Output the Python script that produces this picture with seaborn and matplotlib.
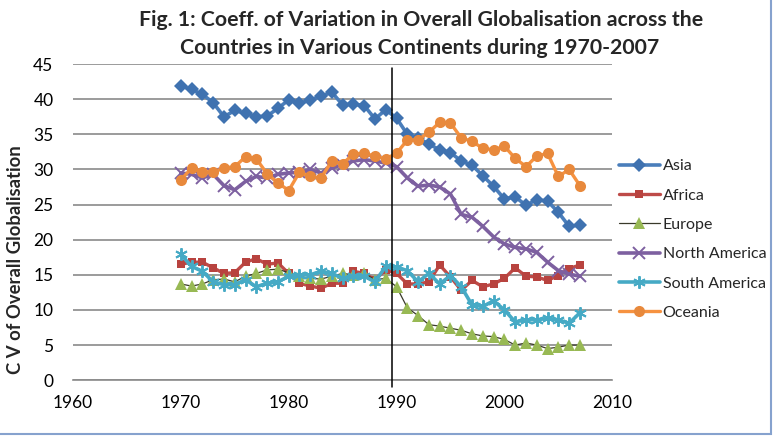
#!/usr/bin/env python3
"""
Coefficient of variation in overall globalisation by continent, 1970-2007
"""

import pandas as pd
import matplotlib
matplotlib.use("Agg")
import matplotlib.pyplot as plt
from matplotlib.patches import Rectangle
import seaborn as sns

# Data
years = list(range(1970, 2008))

asia = [41.9, 41.4, 40.7, 39.5, 37.5, 38.4, 38.0, 37.5, 37.6, 38.7,
        39.9, 39.4, 39.9, 40.4, 41.0, 39.2, 39.3, 39.1, 37.2, 38.5,
        37.3, 35.0, 34.5, 33.6, 32.8, 32.4, 31.2, 30.6, 29.1, 27.6,
        25.8, 26.1, 24.9, 25.7, 25.5, 23.9, 21.9, 22.1]
africa = [16.5, 16.8, 16.8, 16.0, 15.2, 15.3, 16.8, 17.3, 16.5, 16.7,
          15.2, 13.8, 13.4, 13.1, 13.8, 13.8, 15.5, 15.2, 14.3, 15.7,
          15.2, 13.7, 13.7, 14.0, 16.4, 14.7, 12.8, 14.2, 13.3, 13.7,
          14.5, 16.0, 14.8, 14.7, 14.2, 14.9, 15.9, 16.4]
europe = [13.7, 13.4, 13.7, 14.3, 14.4, 14.0, 14.8, 15.2, 15.7, 15.8,
          15.3, 14.8, 14.5, 14.4, 14.8, 15.2, 15.0, 15.2, 14.3, 14.5,
          13.3, 10.3, 9.2, 7.9, 7.7, 7.4, 7.1, 6.6, 6.3, 6.2,
          5.8, 5.0, 5.3, 5.0, 4.5, 4.7, 5.0, 5.0]
north_america = [29.5, 29.3, 28.8, 29.3, 27.7, 27.1, 28.3, 29.0, 28.8, 29.3,
                 29.5, 29.6, 30.0, 29.5, 30.2, 30.7, 31.2, 31.4, 31.2, 30.9,
                 30.4, 28.8, 27.6, 27.8, 27.5, 26.5, 23.6, 23.2, 21.9, 20.4,
                 19.4, 18.9, 18.7, 18.2, 16.8, 15.6, 15.1, 14.8]
south_america = [17.9, 16.2, 15.5, 14.0, 13.6, 13.6, 14.3, 13.3, 13.8, 14.0,
                 14.8, 15.0, 15.0, 15.5, 15.2, 14.5, 14.8, 14.8, 14.0, 16.2,
                 16.1, 15.6, 14.0, 15.2, 13.7, 14.9, 13.3, 10.7, 10.5, 11.3,
                 10.0, 8.3, 8.6, 8.6, 8.8, 8.6, 8.1, 9.6]
oceania = [28.5, 30.2, 29.7, 29.6, 30.2, 30.4, 31.8, 31.5, 29.4, 28.1,
           27.0, 29.6, 29.0, 28.8, 31.2, 30.8, 32.2, 32.3, 31.9, 31.5,
           32.3, 34.2, 34.2, 35.3, 36.7, 36.6, 34.5, 34.0, 33.0, 32.8,
           33.3, 31.6, 30.4, 31.9, 32.3, 29.0, 30.0, 27.7]

continents = ["Asia", "Africa", "Europe", "North America", "South America", "Oceania"]
values = [asia, africa, europe, north_america, south_america, oceania]
break_year = 1989.6

# Styling per series: line colour, marker colour, marker, marker size, line width
styles = {
    "Asia":          dict(color="#4A7EBB", mfc="#3F72B0", marker="D", ms=7.5, lw=2.6, mew=0),
    "Africa":        dict(color="#BE4B48", mfc="#B8433F", marker="s", ms=6.0, lw=2.4, mew=0),
    "Europe":        dict(color="#3A3A2A", mfc="#98B954", marker="^", ms=8.0, lw=0.9, mew=0),
    "North America": dict(color="#7D60A0", mfc="#7D60A0", marker="x", ms=8.0, lw=2.6, mew=1.4),
    "South America": dict(color="#46AAC5", mfc="#46AAC5", marker=(6, 2, 0), ms=9.0, lw=2.6, mew=1.4),
    "Oceania":       dict(color="#F69240", mfc="#E8893C", marker="o", ms=8.0, lw=2.4, mew=0),
}


def build_frame():
    """Long-form table for seaborn"""
    rows = []
    for name, vals in zip(continents, values):
        for yr, v in zip(years, vals):
            rows.append({"year": yr, "cv": v, "continent": name})
    return pd.DataFrame(rows)


def main():
    sns.set_style("white")
    plt.rcParams["font.family"] = ["Lato", "DejaVu Sans"]

    df = build_frame()

    fig = plt.figure(figsize=(7.76, 4.36), dpi=100)
    ax = fig.add_axes([0.094, 0.128, 0.695, 0.725])

    for name in continents:
        st = styles[name]
        sub = df[df["continent"] == name]
        sns.lineplot(data=sub, x="year", y="cv", ax=ax, label=name,
                     color=st["color"], linewidth=st["lw"],
                     marker=st["marker"], markersize=st["ms"],
                     markerfacecolor=st["mfc"], markeredgecolor=st["mfc"],
                     markeredgewidth=st["mew"], zorder=3)

    # vertical reference line drawn over 1990
    ax.plot([break_year, break_year], [-1.0, 44.4], color="black",
            linewidth=1.1, clip_on=False, zorder=4)

    ax.set_xlim(1960, 2010)
    ax.set_ylim(0, 45)
    ax.set_xticks(range(1960, 2011, 10))
    ax.set_yticks(range(0, 46, 5))
    ax.yaxis.grid(True, color="#8A8A8A", linewidth=1.2)
    ax.set_axisbelow(True)
    for side in ["left", "top", "right"]:
        ax.spines[side].set_visible(False)
    ax.spines["bottom"].set_color("#8A8A8A")
    ax.spines["bottom"].set_linewidth(1.2)
    ax.tick_params(axis="both", length=0, labelsize=12.5, colors="black")
    ax.tick_params(axis="y", pad=14)
    ax.tick_params(axis="x", pad=11)

    ax.set_xlabel("")
    ax.set_ylabel("C V of Overall Globalisation", fontsize=13.3, fontweight="bold")
    ax.yaxis.set_label_coords(-0.091, 0.383)

    ax.legend(loc="center left", bbox_to_anchor=(1.0, 0.445), frameon=False,
              fontsize=11.5, handlelength=2.6, handletextpad=0.15,
              labelspacing=0.95, borderaxespad=0.0, borderpad=0.4)

    fig.text(0.543, 0.954, "Fig. 1: Coeff. of Variation in Overall Globalisation across the",
             ha="center", va="center", fontsize=15.3, fontweight="bold")
    fig.text(0.541, 0.890, "Countries in Various Continents during 1970-2007",
             ha="center", va="center", fontsize=15.3, fontweight="bold")

    # chart-area border (only right and bottom edges fall inside the picture)
    fig.patches.append(Rectangle((-0.05, 0.0046), 1.0442, 1.1,
                                 transform=fig.transFigure, fill=False,
                                 edgecolor="#86A2CE", linewidth=1.5))

    fig.savefig("out.png", dpi=100)
    plt.close("all")


if __name__ == "__main__":
    main()
